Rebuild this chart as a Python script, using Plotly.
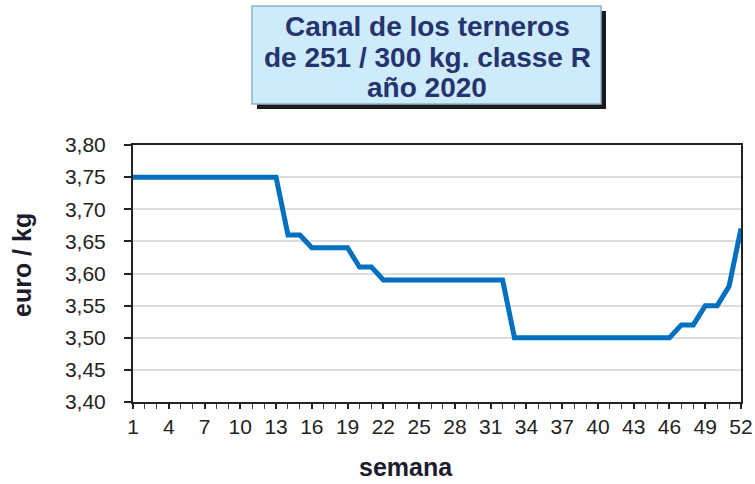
import plotly.graph_objects as go

weeks = list(range(1, 53))
prices = [3.75] * 13 + [3.66, 3.66, 3.64, 3.64, 3.64, 3.64, 3.61, 3.61] + [3.59] * 11 + [3.50] * 14 + [3.52, 3.52, 3.55, 3.55, 3.58, 3.67]
x_tick_vals = list(range(1, 53, 3))
y_tick_vals = [3.40, 3.45, 3.50, 3.55, 3.60, 3.65, 3.70, 3.75, 3.80]
title_lines = ["Canal de los terneros", "de 251 / 300 kg. classe R", "año 2020"]
x_title = "semana"
y_title = "euro / kg"

W, H = 755, 484
L, R, T, B = 133, 14, 145, 82
PW, PH = W - L - R, H - T - B


def px(x):
    return (x - L) / PW


def py(y):
    return (H - B - y) / PH


fig = go.Figure()
fig.add_trace(go.Scatter(x=weeks, y=prices, mode="lines",
                         line=dict(color="#0070c0", width=5), hoverinfo="skip"))

tick_font = dict(family="Liberation Sans", size=21, color="#222222")
fig.update_layout(
    width=W, height=H,
    margin=dict(l=L, r=R, t=T, b=B, autoexpand=False),
    paper_bgcolor="white", plot_bgcolor="white",
    separators=",.",
    showlegend=False,
    xaxis=dict(range=[1, 52], tickvals=x_tick_vals, ticks="outside", ticklen=5, tickwidth=1.5,
               tickcolor="#222", showgrid=False, zeroline=False, showline=True, linecolor="#222",
               linewidth=2, mirror=True, tickfont=tick_font, automargin=False,
               minor=dict(dtick=1, tick0=1, ticks="outside", ticklen=5, tickcolor="#444", tickwidth=1)),
    yaxis=dict(range=[3.40, 3.80], tickvals=y_tick_vals, tickformat=".2f", ticks="outside", ticklen=7,
               tickwidth=1.5, tickcolor="#222", showgrid=True, gridcolor="#dcdcdc", gridwidth=2,
               zeroline=False, showline=True, linecolor="#222", linewidth=2, mirror=True,
               tickfont=tick_font, automargin=False, ticklabelstandoff=14),
)

# title box with shadow
fig.add_shape(type="rect", xref="paper", yref="paper", x0=px(257), x1=px(606), y0=py(11), y1=py(109),
              fillcolor="#1a1a1a", line=dict(width=0), layer="above")
fig.add_shape(type="rect", xref="paper", yref="paper", x0=px(252), x1=px(601), y0=py(6), y1=py(104),
              fillcolor="#cdebfb", line=dict(color="#8fb3c6", width=1.5), layer="above")
for txt, yy in zip(title_lines, [26, 57, 88]):
    fig.add_annotation(text="<b>%s</b>" % txt, xref="paper", yref="paper", x=px(427), y=py(yy),
                       showarrow=False, xanchor="center", yanchor="middle",
                       font=dict(family="Liberation Sans", size=28, color="#26346e"))

fig.add_annotation(text="<b>%s</b>" % x_title, xref="paper", yref="paper", x=px(406), y=py(467),
                   showarrow=False, xanchor="center", yanchor="middle",
                   font=dict(family="Liberation Sans", size=25, color="#1c1c2c"))
fig.add_annotation(text="<b>%s</b>" % y_title, xref="paper", yref="paper", x=px(22), y=py(265),
                   showarrow=False, xanchor="center", yanchor="middle", textangle=-90,
                   font=dict(family="Liberation Sans", size=25, color="#1c1c2c"))

fig.write_html("out.html", config={"displayModeBar": False},
               post_script="document.body.style.margin='0';document.body.style.overflow='hidden';")
